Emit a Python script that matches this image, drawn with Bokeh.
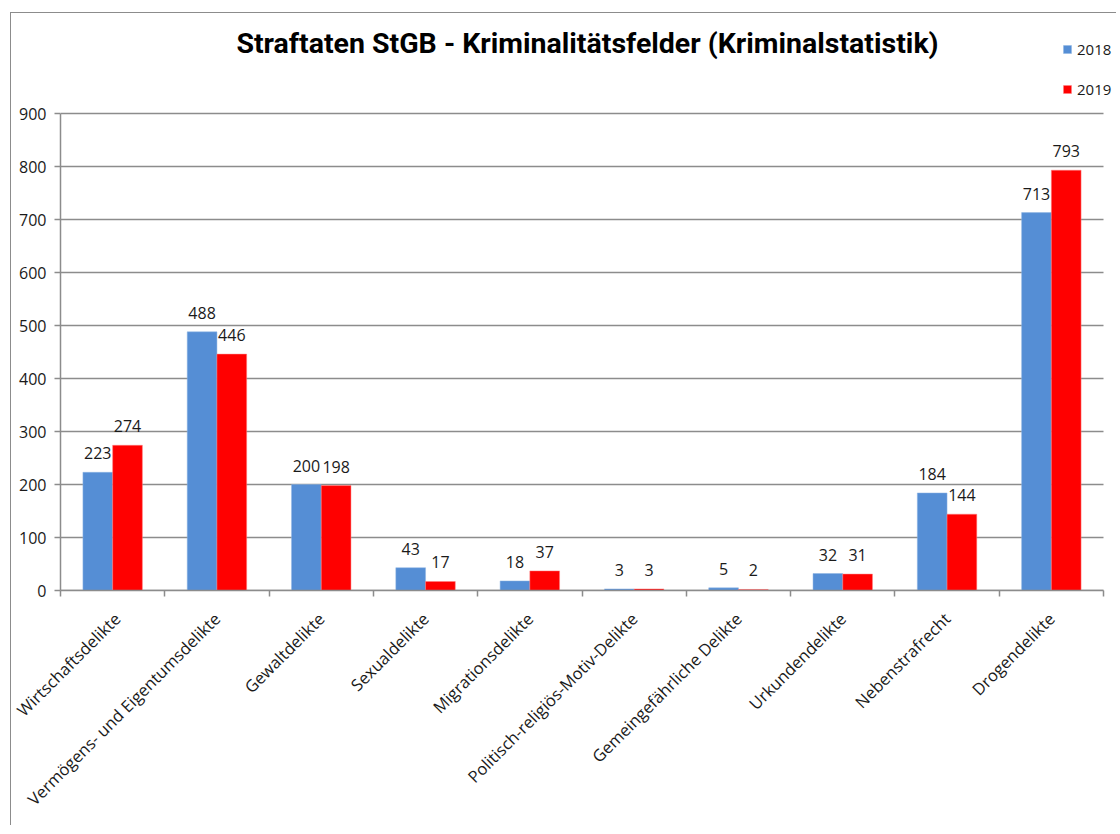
from bokeh.plotting import figure
from bokeh.models import (FixedTicker, Label, Legend, LegendItem, ColumnDataSource,
                          Range1d, CustomJSTickFormatter)
from bokeh.core.properties import value
from bokeh.embed import file_html
from bokeh.resources import INLINE

categories = ["Wirtschaftsdelikte", "Vermögens- und Eigentumsdelikte", "Gewaltdelikte",
              "Sexualdelikte", "Migrationsdelikte", "Politisch-religiös-Motiv-Delikte",
              "Gemeingefährliche Delikte", "Urkundendelikte", "Nebenstrafrecht", "Drogendelikte"]
values_2018 = [223, 488, 200, 43, 18, 3, 5, 32, 184, 713]
values_2019 = [274, 446, 198, 17, 37, 3, 2, 31, 144, 793]
series_names = ["2018", "2019"]
y_ticks = [0, 100, 200, 300, 400, 500, 600, 700, 800, 900]
title_text = "Straftaten StGB - Kriminalitätsfelder (Kriminalstatistik)"

BLUE = "#558ED5"
RED = "#FF0000"
GRID = "#8c8c8c"
FONT = "Open Sans"

n = len(categories)
ymax = y_ticks[-1]
centers = [i + 0.5 for i in range(n)]
bw = 0.285
src18 = ColumnDataSource(dict(x=[c - bw / 2 for c in centers], top=values_2018,
                              lab=[str(v) for v in values_2018]))
src19 = ColumnDataSource(dict(x=[c + bw / 2 for c in centers], top=values_2019,
                              lab=[str(v) for v in values_2019]))

W, H = 1106, 813
left, bottom = 49, 236
frame_w = W - left
frame_h = H - bottom
axis_px_w = 1043      # pixel width of the category axis
axis_px_h = 477       # pixel height of 0..900
x_end = n * frame_w / axis_px_w
y_end = ymax * frame_h / axis_px_h

p = figure(width=W, height=H, output_backend="svg", toolbar_location=None,
           x_range=Range1d(0, x_end), y_range=Range1d(0, y_end),
           min_border_left=left, min_border_right=0, min_border_top=0, min_border_bottom=bottom)
p.styles = {"border-left": "1px solid #8c8c8c", "border-top": "1px solid #8c8c8c",
            "margin-left": "10px", "margin-top": "12px"}
p.outline_line_color = None
p.background_fill_color = "white"
p.border_fill_color = "white"
p.grid.visible = False

# horizontal grid lines across the category span
p.segment(x0=[0] * len(y_ticks), x1=[n] * len(y_ticks), y0=y_ticks, y1=y_ticks,
          line_color=GRID, line_width=1.5)

r18 = p.vbar(x="x", top="top", width=bw, source=src18, fill_color=BLUE, line_color="#8fb4e3",
             line_width=0.5)
r19 = p.vbar(x="x", top="top", width=bw, source=src19, fill_color=RED, line_color="#ff8080",
             line_width=0.5)

for src in (src18, src19):
    p.text(x="x", y="top", text="lab", source=src, text_align="center", text_baseline="bottom",
           y_offset=-13, text_font=value(FONT), text_font_size="16px", text_color="#1a1a1a")

# axes
p.yaxis.bounds = (0, ymax)
p.yaxis.ticker = FixedTicker(ticks=y_ticks)
p.yaxis.axis_line_color = GRID
p.yaxis.axis_line_width = 1.5
p.yaxis.major_tick_line_color = GRID
p.yaxis.major_tick_line_width = 1.5
p.yaxis.major_tick_out = 6
p.yaxis.major_tick_in = 0
p.yaxis.minor_tick_line_color = None
p.yaxis.major_label_text_font = FONT
p.yaxis.major_label_text_font_size = "16px"
p.yaxis.major_label_text_color = "#1a1a1a"
p.yaxis.major_label_standoff = 8

p.xaxis.bounds = (0, n)
p.xaxis.ticker = FixedTicker(ticks=centers, minor_ticks=list(range(n + 1)))
p.xaxis.formatter = CustomJSTickFormatter(args=dict(labels=categories),
                                          code="return labels[Math.floor(tick)];")
p.xaxis.major_label_orientation = 0.7854
p.xaxis.axis_line_color = GRID
p.xaxis.axis_line_width = 1.5
p.xaxis.major_tick_line_color = None
p.xaxis.major_tick_out = 0
p.xaxis.major_tick_in = 0
p.xaxis.minor_tick_line_color = GRID
p.xaxis.minor_tick_line_width = 1.5
p.xaxis.minor_tick_out = 6
p.xaxis.minor_tick_in = 0
p.xaxis.major_label_text_font = FONT
p.xaxis.major_label_text_font_size = "16.5px"
p.xaxis.major_label_text_color = "#1a1a1a"
p.xaxis.major_label_standoff = 19

# title
p.add_layout(Label(x=527, y=frame_h - 30, x_units="screen", y_units="screen", text=title_text,
                   text_align="center", text_baseline="middle", text_font="Roboto",
                   text_font_style="bold", text_font_size="28.5px", text_color="black"))

legend = Legend(items=[LegendItem(label=series_names[0], renderers=[r18]),
                       LegendItem(label=series_names[1], renderers=[r19])],
                location=(1002, frame_h - 86), orientation="vertical",
                glyph_width=10, glyph_height=10, label_height=20, spacing=20,
                label_standoff=5, padding=0, margin=0,
                label_text_font=FONT, label_text_font_size="15px", label_text_color="#1a1a1a",
                background_fill_alpha=0, border_line_alpha=0)
p.add_layout(legend)

open("out.html", "w").write(file_html(p, INLINE))
